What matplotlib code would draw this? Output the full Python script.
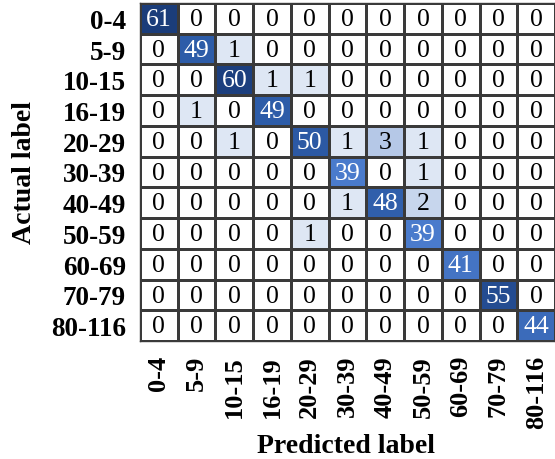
import matplotlib
matplotlib.use("Agg")
import matplotlib.pyplot as plt
import numpy as np
from matplotlib.colors import LinearSegmentedColormap, Normalize

labels = ["0-4", "5-9", "10-15", "16-19", "20-29", "30-39", "40-49",
          "50-59", "60-69", "70-79", "80-116"]

row_0_4    = [61, 0, 0, 0, 0, 0, 0, 0, 0, 0, 0]
row_5_9    = [0, 49, 1, 0, 0, 0, 0, 0, 0, 0, 0]
row_10_15  = [0, 0, 60, 1, 1, 0, 0, 0, 0, 0, 0]
row_16_19  = [0, 1, 0, 49, 0, 0, 0, 0, 0, 0, 0]
row_20_29  = [0, 0, 1, 0, 50, 1, 3, 1, 0, 0, 0]
row_30_39  = [0, 0, 0, 0, 0, 39, 0, 1, 0, 0, 0]
row_40_49  = [0, 0, 0, 0, 0, 1, 48, 2, 0, 0, 0]
row_50_59  = [0, 0, 0, 0, 1, 0, 0, 39, 0, 0, 0]
row_60_69  = [0, 0, 0, 0, 0, 0, 0, 0, 41, 0, 0]
row_70_79  = [0, 0, 0, 0, 0, 0, 0, 0, 0, 55, 0]
row_80_116 = [0, 0, 0, 0, 0, 0, 0, 0, 0, 0, 44]

cm = np.array([row_0_4, row_5_9, row_10_15, row_16_19, row_20_29, row_30_39,
               row_40_49, row_50_59, row_60_69, row_70_79, row_80_116])

plt.rcParams['font.family'] = ['Liberation Serif', 'DejaVu Serif']

vmax = cm.max()
anchors = [(0.0, "#ffffff"), (1 / 61, "#dde6f4"), (2 / 61, "#c5d4ec"),
           (3 / 61, "#b3c6e6"), (39 / 61, "#4a7bcc"), (49 / 61, "#2d5ca8"),
           (1.0, "#1b3d7a")]
cmap = LinearSegmentedColormap.from_list("cmblues", anchors)
norm = Normalize(vmin=0, vmax=vmax)

fig = plt.figure(figsize=(5.55, 4.6), dpi=100)
ax = fig.add_axes([140 / 555, 1 - 342 / 460, 415 / 555, 338 / 460])

n = len(labels)
ax.pcolormesh(np.arange(n + 1), np.arange(n + 1), cm, cmap=cmap, norm=norm,
              edgecolors="#3a3a3a", linewidth=0.9)
ax.set_xlim(0, n)
ax.set_ylim(n, 0)

for i in range(n):
    for j in range(n):
        v = cm[i, j]
        color = "white" if v >= 30 else "black"
        ax.text(j + 0.5, i + 0.52, str(v), ha="center", va="center",
                fontsize=18.5, color=color)

ax.set_xticks(np.arange(n) + 0.5)
ax.set_yticks(np.arange(n) + 0.5)
ax.set_xticklabels(labels, rotation=90, fontsize=19, fontweight="bold")
ax.set_yticklabels(labels, fontsize=19.5, fontweight="bold")
ax.tick_params(axis="x", length=0, pad=10)
ax.tick_params(axis="y", length=0, pad=10)
for s in ax.spines.values():
    s.set_color("#3a3a3a")
    s.set_linewidth(1.0)

fig.text(346 / 555, 1 - 453 / 460, "Predicted label", fontsize=20,
         fontweight="bold", ha="center", va="baseline")
ax.set_ylabel("Actual label", fontsize=20, fontweight="bold", labelpad=10)

fig.savefig("out.png", dpi=100)
